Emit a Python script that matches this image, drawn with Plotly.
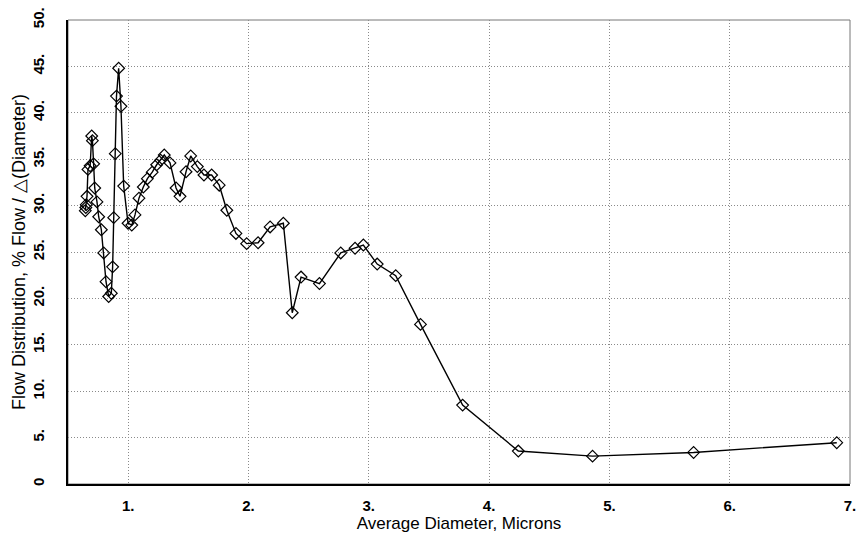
import plotly.graph_objects as go

diameter = [0.644, 0.648, 0.652, 0.658, 0.666, 0.684, 0.697, 0.703, 0.713, 0.722,
            0.741, 0.755, 0.777, 0.797, 0.816, 0.838, 0.860, 0.871, 0.880, 0.893,
            0.903, 0.921, 0.940, 0.963, 0.999, 1.030, 1.057, 1.090, 1.126, 1.160,
            1.200, 1.237, 1.270, 1.300, 1.348, 1.398, 1.431, 1.481, 1.520, 1.575,
            1.630, 1.694, 1.757, 1.820, 1.896, 1.985, 2.080, 2.180, 2.290, 2.364,
            2.437, 2.590, 2.767, 2.886, 2.955, 3.070, 3.224, 3.430, 3.780, 4.243,
            4.860, 5.700, 6.890]
flow = [29.45, 29.8, 30.1, 31.0, 33.9, 34.3, 37.5, 37.0, 34.5, 31.9,
        30.4, 28.8, 27.4, 24.9, 21.8, 20.2, 20.55, 23.4, 28.7, 35.6,
        41.8, 44.8, 40.7, 32.1, 28.1, 27.9, 29.0, 30.8, 32.0, 32.9,
        33.6, 34.4, 34.9, 35.45, 34.6, 31.9, 31.0, 33.65, 35.35, 34.2,
        33.3, 33.3, 32.2, 29.5, 27.0, 25.9, 26.0, 27.7, 28.1, 18.45,
        22.3, 21.6, 24.9, 25.4, 25.75, 23.7, 22.45, 17.2, 8.5, 3.55,
        3.0, 3.4, 4.45]

x_ticks = [1, 2, 3, 4, 5, 6, 7]
x_ticktext = ["1.", "2.", "3.", "4.", "5.", "6.", "7."]
y_ticks = [0, 5, 10, 15, 20, 25, 30, 35, 40, 45, 50]
y_ticktext = ["0", "5.", "10.", "15.", "20.", "25.", "30.", "35.", "40.", "45.", "50."]

fig = go.Figure()
fig.add_trace(go.Scatter(
    x=diameter, y=flow, mode="lines+markers",
    line=dict(color="black", width=1.4),
    marker=dict(symbol="diamond-open", size=9, color="black", line=dict(width=1.2)),
    showlegend=False, cliponaxis=False,
))

tickfont = dict(family="Liberation Sans, Arial, sans-serif", size=15, color="black", weight="bold")
xtitlefont = dict(family="Liberation Sans, Arial, sans-serif", size=17, color="black")
ytitlefont = dict(family="Liberation Sans, Arial, sans-serif", size=18, color="black")

fig.update_layout(
    width=857, height=535,
    margin=dict(l=68, r=7, t=20, b=51, autoexpand=False),
    plot_bgcolor="white", paper_bgcolor="white",
    xaxis=dict(
        range=[0.5, 7.0], tickvals=x_ticks, ticktext=x_ticktext, automargin=False,
        tickfont=tickfont, showgrid=True, gridcolor="#8a8a8a", griddash="1px,2px", gridwidth=1,
        showline=True, linecolor="black", linewidth=2, zeroline=False,
        ticks="outside", ticklen=7, tickcolor="rgba(0,0,0,0)",
        title=dict(text="Average Diameter, Microns", font=xtitlefont, standoff=0),
    ),
    yaxis=dict(
        range=[0, 50], tickvals=y_ticks, ticktext=y_ticktext, tickangle=-90, automargin=False,
        tickfont=tickfont, showgrid=True, gridcolor="#8a8a8a", griddash="1px,2px", gridwidth=1,
        showline=True, linecolor="black", linewidth=2, zeroline=False,
        ticks="outside", ticklen=16, tickcolor="rgba(0,0,0,0)",
        title=dict(text="Flow Distribution, % Flow / \u25b3(Diameter)", font=ytitlefont, standoff=0),
    ),
)
fig.add_shape(type="rect", xref="paper", yref="paper", x0=0, y0=0, x1=1, y1=1,
              line=dict(color="#777777", width=1), layer="below")

fig.write_html("out.html", config={"displayModeBar": False},
               post_script="document.body.style.margin='0';")
